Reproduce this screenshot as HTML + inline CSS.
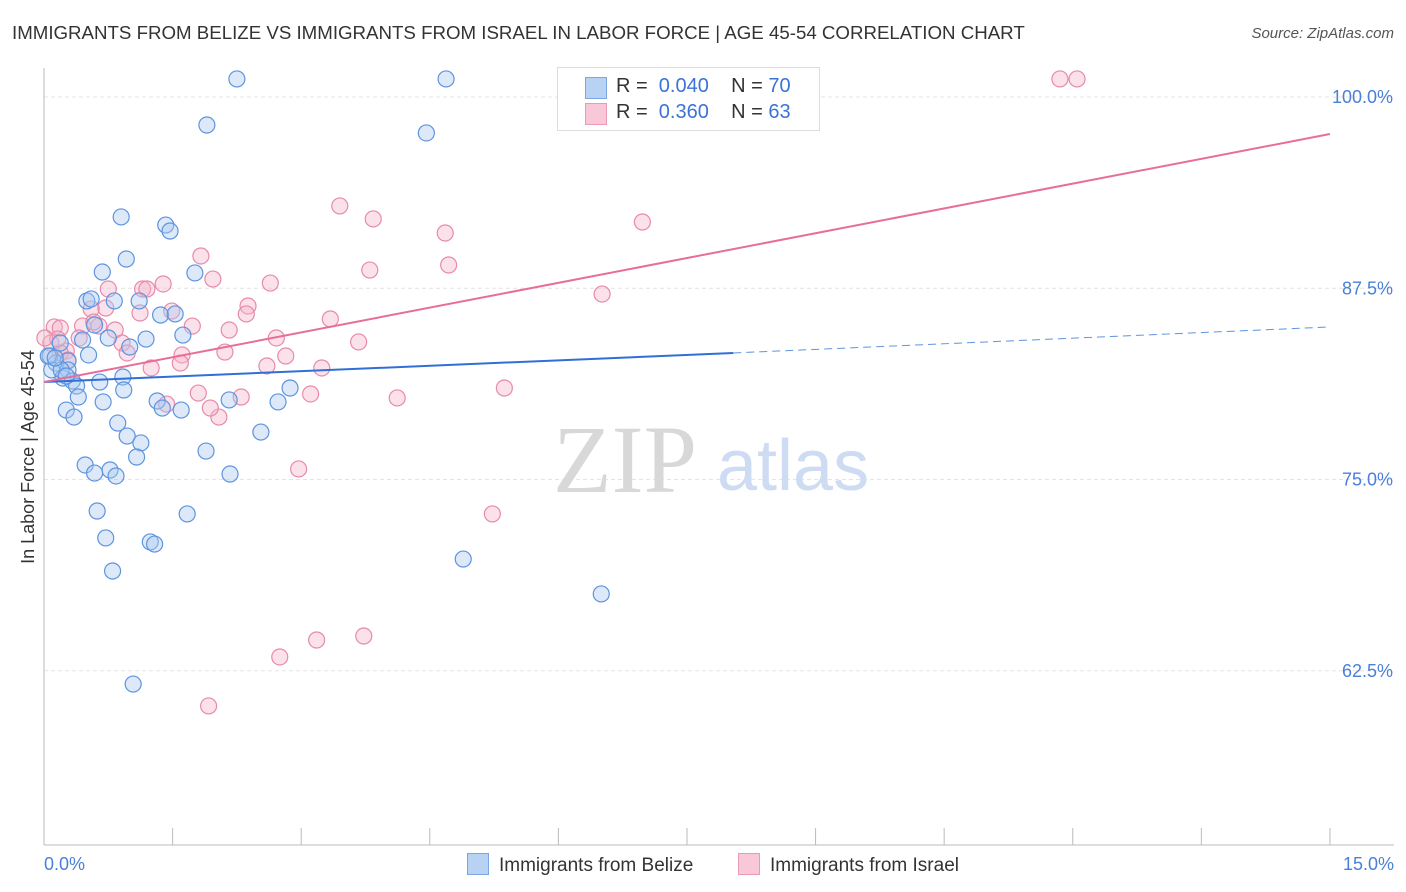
<!DOCTYPE html>
<html><head><meta charset="utf-8"><style>
body{margin:0;background:#fff;font-family:"Liberation Sans",sans-serif}
#wrap{position:relative;width:1406px;height:892px;overflow:hidden}
.t{position:absolute;white-space:nowrap}
</style></head><body>
<div id="wrap">
<div class="t" style="left:12px;top:22px;font-size:18.7px;color:#333">IMMIGRANTS FROM BELIZE VS IMMIGRANTS FROM ISRAEL IN LABOR FORCE | AGE 45-54 CORRELATION CHART</div>
<div class="t" style="right:12px;top:25px;font-size:15px;color:#555;font-style:italic">Source: ZipAtlas.com</div>
<svg id="svg" width="1406" height="892" style="position:absolute;left:0;top:0"></svg>
</div>
<script>
const yTicks=[100,87.5,75,62.5];
const yTickLabels=["100.0%","87.5%","75.0%","62.5%"];
const xAxisLabels=["0.0%","15.0%"];
const belizeX=[2.25,4.69,1.90,4.46,0.90,1.42,1.47,0.96,0.68,1.76,0.50,0.55,0.82,1.11,1.36,1.53,1.62,1.19,0.75,0.45,0.59,0.19,1.00,0.07,0.14,0.52,0.28,0.09,0.28,0.22,0.33,0.65,0.92,0.20,0.38,0.93,2.87,0.40,0.69,1.32,2.16,2.73,1.38,1.60,0.26,0.35,0.86,0.97,1.13,2.53,1.89,1.08,0.48,0.77,0.59,0.84,2.17,0.62,1.67,0.72,1.24,1.29,4.89,0.80,6.50,1.04,0.05,0.13,0.26];
const belizeY=[101.18,101.18,98.17,97.65,92.16,91.63,91.24,89.41,88.56,88.50,86.67,86.80,86.67,86.67,85.75,85.82,84.44,84.18,84.25,84.12,85.10,83.92,83.66,83.07,82.61,83.14,82.75,82.16,82.16,81.63,81.44,81.37,81.70,82.16,81.11,80.85,80.98,80.39,80.07,80.13,80.20,80.07,79.67,79.54,79.54,79.08,78.69,77.84,77.39,78.10,76.86,76.47,75.95,75.62,75.42,75.23,75.36,72.94,72.75,71.18,70.92,70.78,69.80,69.02,67.52,61.63,83.07,82.94,81.76];
const israelX=[11.85,12.05,3.45,3.84,6.98,4.68,1.83,4.72,3.80,1.97,2.64,1.39,1.15,1.20,0.75,0.72,6.51,2.38,0.55,1.12,1.49,2.36,3.34,1.73,0.64,2.16,0.45,0.83,0.12,0.19,2.71,3.67,0.91,0.41,0.08,0.26,2.11,0.97,1.61,2.82,2.60,3.24,1.25,1.59,0.19,1.80,2.30,3.11,4.12,5.37,1.43,2.04,2.97,5.23,3.73,3.18,2.75,1.92,0.16,0.28,0.01,0.58,1.94];
const israelY=[101.18,101.18,92.88,92.03,91.83,91.11,89.61,89.02,88.69,88.10,87.84,87.78,87.45,87.45,87.45,86.21,87.12,86.34,86.14,85.88,86.01,85.82,85.49,85.03,85.03,84.77,85.03,84.77,84.97,84.90,84.25,83.99,83.92,84.25,83.92,83.40,83.33,83.27,83.14,83.07,82.42,82.29,82.29,82.61,83.27,80.65,80.39,80.59,80.33,80.98,79.93,79.08,75.69,72.75,64.77,64.51,63.40,60.20,84.18,82.81,84.25,85.29,79.67];
const belizeTrend=[81.37,83.27,84.97]; const belizeTrendX=[0,8.04,15];
const israelTrend=[81.37,97.58]; const israelTrendX=[0,15];

const NS="http://www.w3.org/2000/svg",svg=document.getElementById('svg');
const X=v=>44+v*85.73, Y=v=>97+(100-v)*15.3;
function mk(tag,a,p){const e=document.createElementNS(NS,tag);for(const k in a)e.setAttribute(k,a[k]);(p||svg).appendChild(e);return e;}
yTicks.forEach((t,i)=>{
 const g=mk('line',{x1:44,x2:1394,y1:Y(t),y2:Y(t),stroke:'#e4e4e4','stroke-dasharray':'4,3'});
 
 
 const tx=mk('text',{x:1393,y:Y(t)+6,'text-anchor':'end','font-size':18,fill:'#4a7fd8','font-family':'Liberation Sans'});
 tx.textContent=yTickLabels[i];
 
 
});
const ax=mk('line',{x1:44,x2:44,y1:68,y2:845,stroke:'#bbb'});


const bx=mk('line',{x1:44,x2:1394,y1:845,y2:845,stroke:'#bbb'});


for(let i=0;i<=10;i++){const v=i*1.5;const l=mk('line',{x1:X(v),x2:X(v),y1:828,y2:845,stroke:'#bbb'});
 
 }
[[0,'start',44],[15,'end',1394]].forEach((d,i)=>{const t=mk('text',{x:d[2],y:870,'text-anchor':d[1],'font-size':18,fill:'#4a7fd8','font-family':'Liberation Sans'});t.textContent=xAxisLabels[i];
 
 });
const yt=mk('text',{x:34,y:457,'text-anchor':'middle','font-size':18,fill:'#333','font-family':'Liberation Sans',transform:'rotate(-90 34 457)'});yt.textContent='In Labor Force | Age 45-54';


const w1=mk('text',{x:553,y:492,'font-size':96,fill:'#d8d8d8','font-family':'Liberation Serif'});w1.textContent='ZIP';


const w2=mk('text',{x:717,y:490,'font-size':72,fill:'#cddcf3','font-family':'Liberation Sans'});w2.textContent='atlas';


function pts(xs,ys,fill,stroke,name){xs.forEach((x,i)=>{const c=mk('circle',{cx:X(x),cy:Y(ys[i]),r:8,fill:fill,'fill-opacity':0.4,stroke:stroke,'stroke-width':1.2});
 
 });}
pts(israelX,israelY,'#f4b4c9','#e88aaa','israel-point');
pts(belizeX,belizeY,'#a9c8f0','#5d94e0','belize-point');
const l1=mk('line',{x1:X(belizeTrendX[0]),y1:Y(belizeTrend[0]),x2:X(belizeTrendX[1]),y2:Y(belizeTrend[1]),stroke:'#2f6fd6','stroke-width':2});


const l2=mk('line',{x1:X(belizeTrendX[1]),y1:Y(belizeTrend[1]),x2:X(belizeTrendX[2]),y2:Y(belizeTrend[2]),stroke:'#5d94e0','stroke-width':1,'stroke-dasharray':'8,5'});


const l3=mk('line',{x1:X(israelTrendX[0]),y1:Y(israelTrend[0]),x2:X(israelTrendX[1]),y2:Y(israelTrend[1]),stroke:'#e86d9a','stroke-width':2});


</script>
<div class="t" style="left:557px;top:67px;width:261px;height:62px;border:1px solid #ddd;background:#fff;font-size:20px;color:#333">
 <div style="position:absolute;left:27px;top:9px;width:20px;height:20px;background:#b8d2f4;border:1px solid #7aa6e4"></div>
 <div style="position:absolute;left:58px;top:7px">R = <span style="color:#3b73d6">&nbsp;0.040</span>&nbsp;&nbsp;&nbsp;&nbsp;N = <span style="color:#3b73d6">70</span></div>
 <div style="position:absolute;left:27px;top:35px;width:20px;height:20px;background:#f9c8d8;border:1px solid #eb9ab5"></div>
 <div style="position:absolute;left:58px;top:33px">R = <span style="color:#3b73d6">&nbsp;0.360</span>&nbsp;&nbsp;&nbsp;&nbsp;N = <span style="color:#3b73d6">63</span></div>
</div>
<div class="t" style="left:467px;top:853px;font-size:19px;color:#333">
 <span style="display:inline-block;width:20px;height:20px;background:#b8d2f4;border:1px solid #7aa6e4;vertical-align:-4px;margin-right:10px"></span>Immigrants from Belize</div>
<div class="t" style="left:738px;top:853px;font-size:19px;color:#333">
 <span style="display:inline-block;width:20px;height:20px;background:#f9c8d8;border:1px solid #eb9ab5;vertical-align:-4px;margin-right:10px"></span>Immigrants from Israel</div>
</body></html>
